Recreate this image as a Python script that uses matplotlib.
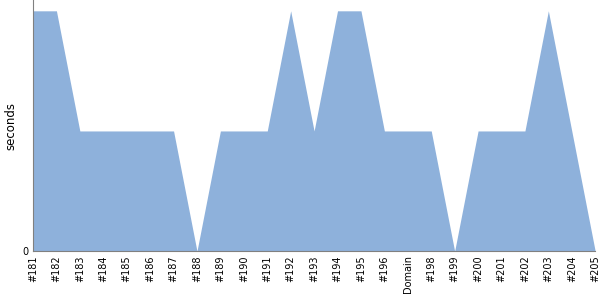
import matplotlib
matplotlib.use("Agg")
import matplotlib.pyplot as plt

labels = ["#181", "#182", "#183", "#184", "#185", "#186", "#187", "#188", "#189", "#190",
          "#191", "#192", "#193", "#194", "#195", "#196", "Domain", "#198", "#199", "#200",
          "#201", "#202", "#203", "#204", "#205"]
values = [2, 2, 1, 1, 1, 1, 1, 0, 1, 1, 1, 2, 1, 2, 2, 1, 1, 1, 0, 1, 1, 1, 2, 1, 0]

fig = plt.figure(figsize=(6, 3), dpi=100)
ax = fig.add_axes([0.055, 0.163, 0.937, 0.837])
x = list(range(len(values)))
ax.fill_between(x, values, 0, color="#8eb1db", linewidth=0)
ax.set_xlim(0, len(values) - 1)
ax.set_ylim(0, 2.09)
ax.set_xticks(x)
ax.set_xticklabels(labels, rotation=90, fontsize=7)
ax.set_yticks([0])
ax.set_yticklabels(["0"], fontsize=7)
ax.tick_params(length=0, pad=3)
ax.set_ylabel("seconds", fontsize=8.5)
for s in ["top", "right"]:
    ax.spines[s].set_visible(False)
for s in ["left", "bottom"]:
    ax.spines[s].set_color("#808080")
    ax.spines[s].set_linewidth(0.8)
fig.savefig("out.png", dpi=100)
